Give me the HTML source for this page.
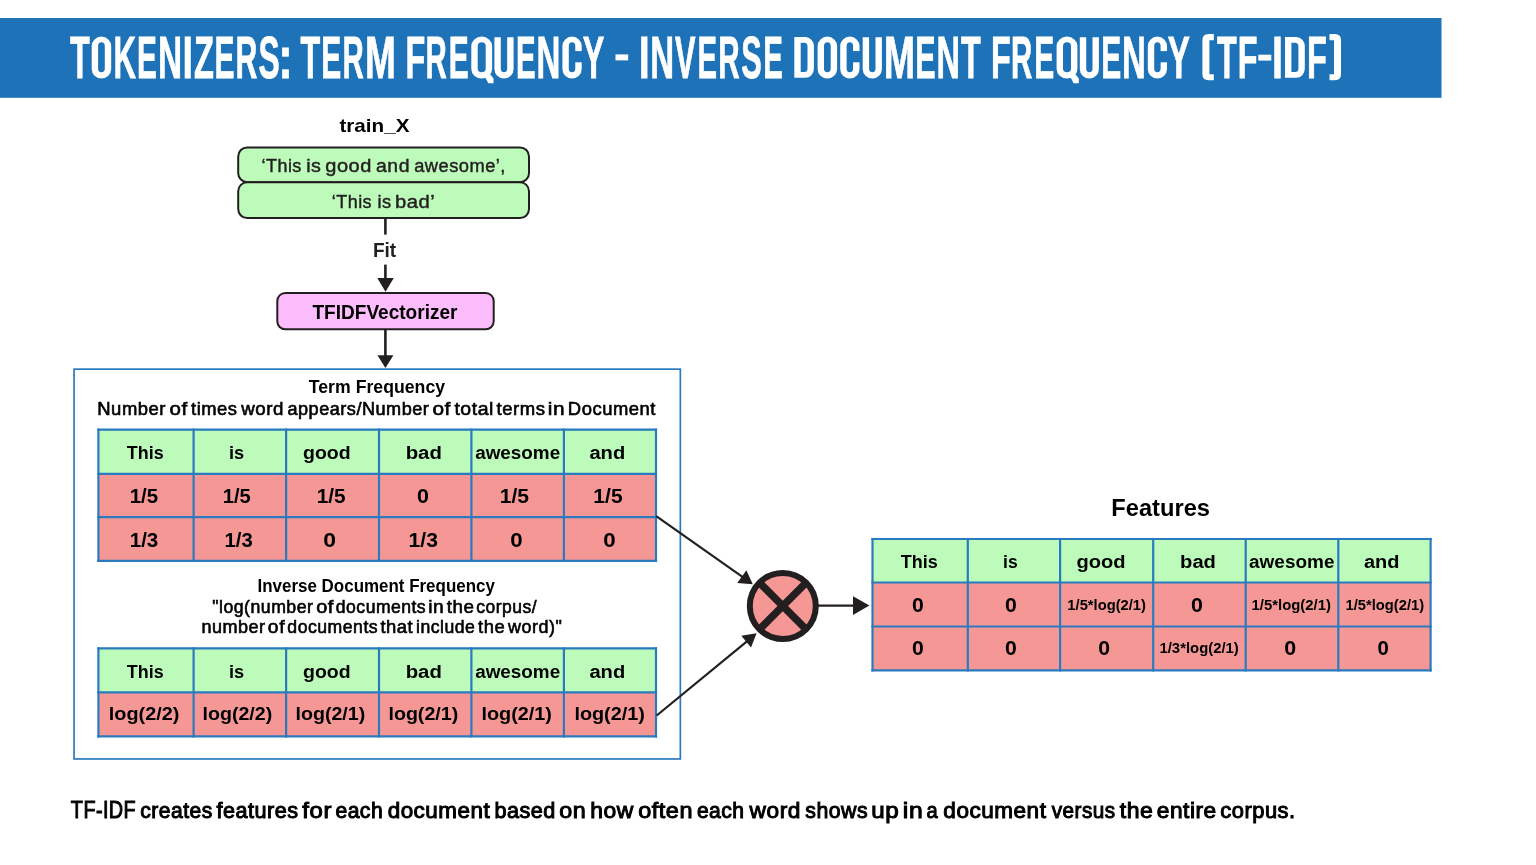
<!DOCTYPE html>
<html><head><meta charset="utf-8"><style>
html,body{margin:0;padding:0;background:#fff;overflow:hidden;width:1536px;height:865px;}
svg{display:block;will-change:transform;font-family:"Liberation Sans",sans-serif;}
</style></head><body>
<svg width="1536" height="865" viewBox="0 0 1536 865">
<rect x="0" y="18" width="1441.5" height="79.8" fill="#1d72b8"/>
<text x="69.94" y="77.50" font-size="58.4" font-weight="bold" fill="#ffffff" textLength="19.71" lengthAdjust="spacingAndGlyphs" stroke="#fff" stroke-width="0.8">T</text>
<path d="M101.45,36.60 H101.45 A9.75,9.50 0 0 1 111.20,46.10 V69.00 A9.75,9.50 0 0 1 101.45,78.50 H101.45 A9.75,9.50 0 0 1 91.70,69.00 V46.10 A9.75,9.50 0 0 1 101.45,36.60 Z M101.45,42.30 H101.45 A3.35,3.80 0 0 1 104.80,46.10 V68.40 A3.35,3.80 0 0 1 101.45,72.20 H101.45 A3.35,3.80 0 0 1 98.10,68.40 V46.10 A3.35,3.80 0 0 1 101.45,42.30 Z" fill="#fff" fill-rule="evenodd"/>
<text x="113.42" y="77.50" font-size="58.4" font-weight="bold" fill="#ffffff" textLength="22.47" lengthAdjust="spacingAndGlyphs" stroke="#fff" stroke-width="0.8">K</text>
<text x="137.01" y="77.50" font-size="58.4" font-weight="bold" fill="#ffffff" textLength="19.85" lengthAdjust="spacingAndGlyphs" stroke="#fff" stroke-width="0.8">E</text>
<text x="157.97" y="77.50" font-size="58.4" font-weight="bold" fill="#ffffff" textLength="24.08" lengthAdjust="spacingAndGlyphs" stroke="#fff" stroke-width="0.8">N</text>
<text x="182.39" y="77.50" font-size="58.4" font-weight="bold" fill="#ffffff" textLength="10.42" lengthAdjust="spacingAndGlyphs" stroke="#fff" stroke-width="0.8">I</text>
<text x="194.03" y="77.50" font-size="58.4" font-weight="bold" fill="#ffffff" textLength="19.91" lengthAdjust="spacingAndGlyphs" stroke="#fff" stroke-width="0.8">Z</text>
<text x="214.40" y="77.50" font-size="58.4" font-weight="bold" fill="#ffffff" textLength="19.97" lengthAdjust="spacingAndGlyphs" stroke="#fff" stroke-width="0.8">E</text>
<text x="235.48" y="77.50" font-size="58.4" font-weight="bold" fill="#ffffff" textLength="21.84" lengthAdjust="spacingAndGlyphs" stroke="#fff" stroke-width="0.8">R</text>
<text x="258.59" y="77.50" font-size="58.4" font-weight="bold" fill="#ffffff" textLength="21.15" lengthAdjust="spacingAndGlyphs" stroke="#fff" stroke-width="0.8">S</text>
<text x="278.13" y="77.50" font-size="58.4" font-weight="bold" fill="#ffffff" textLength="14.45" lengthAdjust="spacingAndGlyphs" stroke="#fff" stroke-width="0.8">:</text>
<text x="300.54" y="77.50" font-size="58.4" font-weight="bold" fill="#ffffff" textLength="19.71" lengthAdjust="spacingAndGlyphs" stroke="#fff" stroke-width="0.8">T</text>
<text x="321.30" y="77.50" font-size="58.4" font-weight="bold" fill="#ffffff" textLength="19.97" lengthAdjust="spacingAndGlyphs" stroke="#fff" stroke-width="0.8">E</text>
<text x="342.43" y="77.50" font-size="58.4" font-weight="bold" fill="#ffffff" textLength="21.27" lengthAdjust="spacingAndGlyphs" stroke="#fff" stroke-width="0.8">R</text>
<text x="365.12" y="77.50" font-size="58.4" font-weight="bold" fill="#ffffff" textLength="30.86" lengthAdjust="spacingAndGlyphs" stroke="#fff" stroke-width="0.8">M</text>
<text x="405.54" y="77.50" font-size="58.4" font-weight="bold" fill="#ffffff" textLength="19.75" lengthAdjust="spacingAndGlyphs" stroke="#fff" stroke-width="0.8">F</text>
<text x="425.53" y="77.50" font-size="58.4" font-weight="bold" fill="#ffffff" textLength="21.27" lengthAdjust="spacingAndGlyphs" stroke="#fff" stroke-width="0.8">R</text>
<text x="448.80" y="77.50" font-size="58.4" font-weight="bold" fill="#ffffff" textLength="19.97" lengthAdjust="spacingAndGlyphs" stroke="#fff" stroke-width="0.8">E</text>
<path d="M481.70,36.60 H481.70 A10.40,9.50 0 0 1 492.10,46.10 V69.00 A10.40,9.50 0 0 1 481.70,78.50 H481.70 A10.40,9.50 0 0 1 471.30,69.00 V46.10 A10.40,9.50 0 0 1 481.70,36.60 Z M481.70,42.30 H481.70 A4.00,3.80 0 0 1 485.70,46.10 V68.40 A4.00,3.80 0 0 1 481.70,72.20 H481.70 A4.00,3.80 0 0 1 477.70,68.40 V46.10 A4.00,3.80 0 0 1 481.70,42.30 Z" fill="#fff" fill-rule="evenodd"/>
<polygon points="484.80,76.5 490.30,74.5 493.50,78.5 493.50,83.3 488.30,83.3" fill="#fff"/>
<path d="M494.40,37.2 V69.00 A9.60,9.50 0 0 0 513.60,69.00 V37.2 H507.20 V68.40 A3.20,3.8 0 0 1 500.80,68.40 V37.2 Z" fill="#fff"/>
<text x="515.93" y="77.50" font-size="58.4" font-weight="bold" fill="#ffffff" textLength="19.62" lengthAdjust="spacingAndGlyphs" stroke="#fff" stroke-width="0.8">E</text>
<text x="536.49" y="77.50" font-size="58.4" font-weight="bold" fill="#ffffff" textLength="23.83" lengthAdjust="spacingAndGlyphs" stroke="#fff" stroke-width="0.8">N</text>
<path d="M572.05,36.60 H572.05 A9.65,9.50 0 0 1 581.70,46.10 V69.00 A9.65,9.50 0 0 1 572.05,78.50 H572.05 A9.65,9.50 0 0 1 562.40,69.00 V46.10 A9.65,9.50 0 0 1 572.05,36.60 Z M572.05,42.30 H572.05 A3.25,3.80 0 0 1 575.30,46.10 V68.40 A3.25,3.80 0 0 1 572.05,72.20 H572.05 A3.25,3.80 0 0 1 568.80,68.40 V46.10 A3.25,3.80 0 0 1 572.05,42.30 Z" fill="#fff" fill-rule="evenodd"/>
<rect x="573.80" y="51.1" width="8.60" height="11.2" fill="#1d72b8"/>
<text x="582.85" y="77.50" font-size="58.4" font-weight="bold" fill="#ffffff" textLength="21.57" lengthAdjust="spacingAndGlyphs" stroke="#fff" stroke-width="0.8">Y</text>
<text x="638.85" y="77.50" font-size="58.4" font-weight="bold" fill="#ffffff" textLength="10.99" lengthAdjust="spacingAndGlyphs" stroke="#fff" stroke-width="0.8">I</text>
<text x="650.29" y="77.50" font-size="58.4" font-weight="bold" fill="#ffffff" textLength="23.83" lengthAdjust="spacingAndGlyphs" stroke="#fff" stroke-width="0.8">N</text>
<text x="675.09" y="77.50" font-size="58.4" font-weight="bold" fill="#ffffff" textLength="20.52" lengthAdjust="spacingAndGlyphs" stroke="#fff" stroke-width="0.8">V</text>
<text x="697.44" y="77.50" font-size="58.4" font-weight="bold" fill="#ffffff" textLength="19.50" lengthAdjust="spacingAndGlyphs" stroke="#fff" stroke-width="0.8">E</text>
<text x="718.22" y="77.50" font-size="58.4" font-weight="bold" fill="#ffffff" textLength="21.39" lengthAdjust="spacingAndGlyphs" stroke="#fff" stroke-width="0.8">R</text>
<text x="741.22" y="77.50" font-size="58.4" font-weight="bold" fill="#ffffff" textLength="20.48" lengthAdjust="spacingAndGlyphs" stroke="#fff" stroke-width="0.8">S</text>
<text x="763.23" y="77.50" font-size="58.4" font-weight="bold" fill="#ffffff" textLength="19.62" lengthAdjust="spacingAndGlyphs" stroke="#fff" stroke-width="0.8">E</text>
<path d="M794.30,37.1 H805.40 A8.5,9 0 0 1 813.90,46.10 V68.80 A8.5,9 0 0 1 805.40,77.8 H794.30 Z M800.70,42.7 V71.9 H804.30 A3.2,3.5 0 0 0 807.50,68.40 V46.20 A3.2,3.5 0 0 0 804.30,42.7 Z" fill="#fff" fill-rule="evenodd"/>
<path d="M827.35,36.60 H827.35 A9.75,9.50 0 0 1 837.10,46.10 V69.00 A9.75,9.50 0 0 1 827.35,78.50 H827.35 A9.75,9.50 0 0 1 817.60,69.00 V46.10 A9.75,9.50 0 0 1 827.35,36.60 Z M827.35,42.30 H827.35 A3.35,3.80 0 0 1 830.70,46.10 V68.40 A3.35,3.80 0 0 1 827.35,72.20 H827.35 A3.35,3.80 0 0 1 824.00,68.40 V46.10 A3.35,3.80 0 0 1 827.35,42.30 Z" fill="#fff" fill-rule="evenodd"/>
<path d="M849.85,36.60 H849.85 A9.65,9.50 0 0 1 859.50,46.10 V69.00 A9.65,9.50 0 0 1 849.85,78.50 H849.85 A9.65,9.50 0 0 1 840.20,69.00 V46.10 A9.65,9.50 0 0 1 849.85,36.60 Z M849.85,42.30 H849.85 A3.25,3.80 0 0 1 853.10,46.10 V68.40 A3.25,3.80 0 0 1 849.85,72.20 H849.85 A3.25,3.80 0 0 1 846.60,68.40 V46.10 A3.25,3.80 0 0 1 849.85,42.30 Z" fill="#fff" fill-rule="evenodd"/>
<rect x="851.60" y="51.1" width="8.60" height="11.2" fill="#1d72b8"/>
<path d="M862.70,37.2 V69.00 A9.60,9.50 0 0 0 881.90,69.00 V37.2 H875.50 V68.40 A3.20,3.8 0 0 1 869.10,68.40 V37.2 Z" fill="#fff"/>
<text x="883.68" y="77.50" font-size="58.4" font-weight="bold" fill="#ffffff" textLength="31.33" lengthAdjust="spacingAndGlyphs" stroke="#fff" stroke-width="0.8">M</text>
<text x="915.16" y="77.50" font-size="58.4" font-weight="bold" fill="#ffffff" textLength="20.33" lengthAdjust="spacingAndGlyphs" stroke="#fff" stroke-width="0.8">E</text>
<text x="936.53" y="77.50" font-size="58.4" font-weight="bold" fill="#ffffff" textLength="23.46" lengthAdjust="spacingAndGlyphs" stroke="#fff" stroke-width="0.8">N</text>
<text x="961.04" y="77.50" font-size="58.4" font-weight="bold" fill="#ffffff" textLength="19.71" lengthAdjust="spacingAndGlyphs" stroke="#fff" stroke-width="0.8">T</text>
<text x="991.04" y="77.50" font-size="58.4" font-weight="bold" fill="#ffffff" textLength="19.75" lengthAdjust="spacingAndGlyphs" stroke="#fff" stroke-width="0.8">F</text>
<text x="1011.03" y="77.50" font-size="58.4" font-weight="bold" fill="#ffffff" textLength="21.27" lengthAdjust="spacingAndGlyphs" stroke="#fff" stroke-width="0.8">R</text>
<text x="1034.20" y="77.50" font-size="58.4" font-weight="bold" fill="#ffffff" textLength="19.97" lengthAdjust="spacingAndGlyphs" stroke="#fff" stroke-width="0.8">E</text>
<path d="M1067.00,36.60 H1067.00 A10.40,9.50 0 0 1 1077.40,46.10 V69.00 A10.40,9.50 0 0 1 1067.00,78.50 H1067.00 A10.40,9.50 0 0 1 1056.60,69.00 V46.10 A10.40,9.50 0 0 1 1067.00,36.60 Z M1067.00,42.30 H1067.00 A4.00,3.80 0 0 1 1071.00,46.10 V68.40 A4.00,3.80 0 0 1 1067.00,72.20 H1067.00 A4.00,3.80 0 0 1 1063.00,68.40 V46.10 A4.00,3.80 0 0 1 1067.00,42.30 Z" fill="#fff" fill-rule="evenodd"/>
<polygon points="1070.10,76.5 1075.60,74.5 1078.80,78.5 1078.80,83.3 1073.60,83.3" fill="#fff"/>
<path d="M1079.80,37.2 V69.00 A9.55,9.50 0 0 0 1098.90,69.00 V37.2 H1092.50 V68.40 A3.15,3.8 0 0 1 1086.20,68.40 V37.2 Z" fill="#fff"/>
<text x="1101.20" y="77.50" font-size="58.4" font-weight="bold" fill="#ffffff" textLength="19.97" lengthAdjust="spacingAndGlyphs" stroke="#fff" stroke-width="0.8">E</text>
<text x="1121.89" y="77.50" font-size="58.4" font-weight="bold" fill="#ffffff" textLength="23.83" lengthAdjust="spacingAndGlyphs" stroke="#fff" stroke-width="0.8">N</text>
<path d="M1157.40,36.60 H1157.40 A9.60,9.50 0 0 1 1167.00,46.10 V69.00 A9.60,9.50 0 0 1 1157.40,78.50 H1157.40 A9.60,9.50 0 0 1 1147.80,69.00 V46.10 A9.60,9.50 0 0 1 1157.40,36.60 Z M1157.40,42.30 H1157.40 A3.20,3.80 0 0 1 1160.60,46.10 V68.40 A3.20,3.80 0 0 1 1157.40,72.20 H1157.40 A3.20,3.80 0 0 1 1154.20,68.40 V46.10 A3.20,3.80 0 0 1 1157.40,42.30 Z" fill="#fff" fill-rule="evenodd"/>
<rect x="1159.10" y="51.1" width="8.60" height="11.2" fill="#1d72b8"/>
<text x="1167.63" y="77.50" font-size="58.4" font-weight="bold" fill="#ffffff" textLength="22.10" lengthAdjust="spacingAndGlyphs" stroke="#fff" stroke-width="0.8">Y</text>
<text x="1217.04" y="77.50" font-size="58.4" font-weight="bold" fill="#ffffff" textLength="19.71" lengthAdjust="spacingAndGlyphs" stroke="#fff" stroke-width="0.8">T</text>
<text x="1237.64" y="77.50" font-size="58.4" font-weight="bold" fill="#ffffff" textLength="19.75" lengthAdjust="spacingAndGlyphs" stroke="#fff" stroke-width="0.8">F</text>
<text x="1272.05" y="77.50" font-size="58.4" font-weight="bold" fill="#ffffff" textLength="10.99" lengthAdjust="spacingAndGlyphs" stroke="#fff" stroke-width="0.8">I</text>
<path d="M1285.00,37.1 H1296.30 A8.5,9 0 0 1 1304.80,46.10 V68.80 A8.5,9 0 0 1 1296.30,77.8 H1285.00 Z M1291.40,42.7 V71.9 H1295.20 A3.2,3.5 0 0 0 1298.40,68.40 V46.20 A3.2,3.5 0 0 0 1295.20,42.7 Z" fill="#fff" fill-rule="evenodd"/>
<text x="1306.92" y="77.50" font-size="58.4" font-weight="bold" fill="#ffffff" textLength="19.87" lengthAdjust="spacingAndGlyphs" stroke="#fff" stroke-width="0.8">F</text>
<rect x="615.5" y="54.4" width="12.7" height="6" fill="#fff"/>
<rect x="1258.3" y="54.7" width="13" height="5.9" fill="#fff"/>
<path d="M1213.8,34 L1208.6,34 Q1202.4,34 1202.4,40.2 L1202.4,74.1 Q1202.4,80.3 1208.6,80.3 L1213.8,80.3 L1213.8,74.3 L1209.4,74.3 L1209.4,40.2 L1213.8,40.2 Z" fill="#fff"/>
<path d="M1329.5,34 L1334.8,34 Q1341,34 1341,40.2 L1341,74.1 Q1341,80.3 1334.8,80.3 L1329.5,80.3 L1329.5,74.3 L1334,74.3 L1334,40.2 L1329.5,40.2 Z" fill="#fff"/>
<text x="339.45" y="132.20" font-size="18.43" font-weight="bold" fill="#000000" textLength="70.03" lengthAdjust="spacingAndGlyphs">train_X</text>
<rect x="238.2" y="147.4" width="290.8" height="34.8" rx="9" fill="#bdfbbb" stroke="#231f20" stroke-width="2"/>
<rect x="238.2" y="182.2" width="290.8" height="35.9" rx="9" fill="#bdfbbb" stroke="#231f20" stroke-width="2"/>
<text x="261.49" y="172.40" font-size="18.79" font-weight="normal" fill="#231f20" textLength="40.36" lengthAdjust="spacingAndGlyphs" stroke="#231f20" stroke-width="0.45" letter-spacing="0.5">‘This</text>
<text x="306.18" y="172.40" font-size="18.79" font-weight="normal" fill="#231f20" textLength="15.23" lengthAdjust="spacingAndGlyphs" stroke="#231f20" stroke-width="0.45" letter-spacing="0.5">is</text>
<text x="325.26" y="172.40" font-size="18.79" font-weight="normal" fill="#231f20" textLength="46.64" lengthAdjust="spacingAndGlyphs" stroke="#231f20" stroke-width="0.45" letter-spacing="0.5">good</text>
<text x="376.08" y="172.40" font-size="18.79" font-weight="normal" fill="#231f20" textLength="33.87" lengthAdjust="spacingAndGlyphs" stroke="#231f20" stroke-width="0.45" letter-spacing="0.5">and</text>
<text x="414.22" y="172.40" font-size="18.79" font-weight="normal" fill="#231f20" textLength="91.71" lengthAdjust="spacingAndGlyphs" stroke="#231f20" stroke-width="0.45" letter-spacing="0.5">awesome’,</text>
<text x="331.79" y="207.80" font-size="18.79" font-weight="normal" fill="#231f20" textLength="40.26" lengthAdjust="spacingAndGlyphs" stroke="#231f20" stroke-width="0.45" letter-spacing="0.5">‘This</text>
<text x="377.38" y="207.80" font-size="18.79" font-weight="normal" fill="#231f20" textLength="14.18" lengthAdjust="spacingAndGlyphs" stroke="#231f20" stroke-width="0.45" letter-spacing="0.5">is</text>
<text x="394.99" y="207.80" font-size="18.79" font-weight="normal" fill="#231f20" textLength="40.37" lengthAdjust="spacingAndGlyphs" stroke="#231f20" stroke-width="0.45" letter-spacing="0.5">bad’</text>
<line x1="385.4" y1="218" x2="385.4" y2="234.6" stroke="#231f20" stroke-width="2.6"/>
<text x="372.92" y="257.40" font-size="19.39" font-weight="bold" fill="#231f20" textLength="23.31" lengthAdjust="spacingAndGlyphs">Fit</text>
<line x1="385.4" y1="264.6" x2="385.4" y2="279" stroke="#231f20" stroke-width="2.6"/>
<polygon points="377.3,277.9 393.8,277.9 385.5,291.8" fill="#231f20"/>
<rect x="277.3" y="293" width="216.4" height="36.3" rx="8" fill="#fdbcfb" stroke="#231f20" stroke-width="2"/>
<text x="312.49" y="318.60" font-size="19.68" font-weight="bold" fill="#000000" textLength="145.00" lengthAdjust="spacingAndGlyphs">TFIDFVectorizer</text>
<line x1="385.4" y1="330" x2="385.4" y2="356" stroke="#231f20" stroke-width="2.6"/>
<polygon points="377.5,355.3 393.4,355.3 385.4,368" fill="#231f20"/>
<rect x="74.05" y="369.15" width="606.3" height="389.8" fill="none" stroke="#2a7abf" stroke-width="1.7"/>
<text x="308.80" y="392.50" font-size="18.24" font-weight="bold" fill="#000000" textLength="136.29" lengthAdjust="spacingAndGlyphs">Term Frequency</text>
<text x="97.28" y="415.30" font-size="17.58" font-weight="normal" fill="#000000" textLength="68.72" lengthAdjust="spacingAndGlyphs" stroke="#000" stroke-width="0.6" letter-spacing="0.5">Number</text>
<text x="169.63" y="415.30" font-size="17.58" font-weight="normal" fill="#000000" textLength="18.24" lengthAdjust="spacingAndGlyphs" stroke="#000" stroke-width="0.6" letter-spacing="0.5">of</text>
<text x="191.02" y="415.30" font-size="17.58" font-weight="normal" fill="#000000" textLength="46.44" lengthAdjust="spacingAndGlyphs" stroke="#000" stroke-width="0.6" letter-spacing="0.5">times</text>
<text x="241.33" y="415.30" font-size="17.58" font-weight="normal" fill="#000000" textLength="42.68" lengthAdjust="spacingAndGlyphs" stroke="#000" stroke-width="0.6" letter-spacing="0.5">word</text>
<text x="287.43" y="415.30" font-size="17.58" font-weight="normal" fill="#000000" textLength="141.97" lengthAdjust="spacingAndGlyphs" stroke="#000" stroke-width="0.6" letter-spacing="0.5">appears/Number</text>
<text x="432.42" y="415.30" font-size="17.58" font-weight="normal" fill="#000000" textLength="18.55" lengthAdjust="spacingAndGlyphs" stroke="#000" stroke-width="0.6" letter-spacing="0.5">of</text>
<text x="454.40" y="415.30" font-size="17.58" font-weight="normal" fill="#000000" textLength="39.61" lengthAdjust="spacingAndGlyphs" stroke="#000" stroke-width="0.6" letter-spacing="0.5">total</text>
<text x="496.62" y="415.30" font-size="17.58" font-weight="normal" fill="#000000" textLength="48.85" lengthAdjust="spacingAndGlyphs" stroke="#000" stroke-width="0.6" letter-spacing="0.5">terms</text>
<text x="547.69" y="415.30" font-size="17.58" font-weight="normal" fill="#000000" textLength="17.37" lengthAdjust="spacingAndGlyphs" stroke="#000" stroke-width="0.6" letter-spacing="0.5">in</text>
<text x="567.89" y="415.30" font-size="17.58" font-weight="normal" fill="#000000" textLength="88.05" lengthAdjust="spacingAndGlyphs" stroke="#000" stroke-width="0.6" letter-spacing="0.5">Document</text>
<rect x="98.4" y="429.7" width="557.6" height="44.10000000000002" fill="#bdfbbb"/>
<rect x="98.4" y="473.8" width="557.6" height="43.30000000000001" fill="#f59795"/>
<rect x="98.4" y="517.1" width="557.6" height="43.799999999999955" fill="#f59795"/>
<line x1="98.4" y1="428.59999999999997" x2="98.4" y2="562.0" stroke="#2a7abf" stroke-width="2.2"/>
<line x1="193.6" y1="428.59999999999997" x2="193.6" y2="562.0" stroke="#2a7abf" stroke-width="2.2"/>
<line x1="286.1" y1="428.59999999999997" x2="286.1" y2="562.0" stroke="#2a7abf" stroke-width="2.2"/>
<line x1="379" y1="428.59999999999997" x2="379" y2="562.0" stroke="#2a7abf" stroke-width="2.2"/>
<line x1="471.4" y1="428.59999999999997" x2="471.4" y2="562.0" stroke="#2a7abf" stroke-width="2.2"/>
<line x1="563.9" y1="428.59999999999997" x2="563.9" y2="562.0" stroke="#2a7abf" stroke-width="2.2"/>
<line x1="656" y1="428.59999999999997" x2="656" y2="562.0" stroke="#2a7abf" stroke-width="2.2"/>
<line x1="97.30000000000001" y1="429.7" x2="657.1" y2="429.7" stroke="#2a7abf" stroke-width="2.2"/>
<line x1="97.30000000000001" y1="473.8" x2="657.1" y2="473.8" stroke="#2a7abf" stroke-width="2.2"/>
<line x1="97.30000000000001" y1="517.1" x2="657.1" y2="517.1" stroke="#2a7abf" stroke-width="2.2"/>
<line x1="97.30000000000001" y1="560.9" x2="657.1" y2="560.9" stroke="#2a7abf" stroke-width="2.2"/>
<text x="126.80" y="459.20" font-size="18.82" font-weight="bold" fill="#000000" textLength="36.84" lengthAdjust="spacingAndGlyphs">This</text>
<text x="229.03" y="459.20" font-size="18.82" font-weight="bold" fill="#000000" textLength="15.22" lengthAdjust="spacingAndGlyphs">is</text>
<text x="303.00" y="459.20" font-size="18.82" font-weight="bold" fill="#000000" textLength="47.69" lengthAdjust="spacingAndGlyphs">good</text>
<text x="405.66" y="459.20" font-size="18.82" font-weight="bold" fill="#000000" textLength="36.18" lengthAdjust="spacingAndGlyphs">bad</text>
<text x="475.15" y="459.20" font-size="18.82" font-weight="bold" fill="#000000" textLength="85.00" lengthAdjust="spacingAndGlyphs">awesome</text>
<text x="589.41" y="459.20" font-size="18.82" font-weight="bold" fill="#000000" textLength="35.82" lengthAdjust="spacingAndGlyphs">and</text>
<text x="129.71" y="502.90" font-size="19.9" font-weight="bold" fill="#000000" textLength="28.46" lengthAdjust="spacingAndGlyphs">1/5</text>
<text x="222.73" y="502.90" font-size="19.9" font-weight="bold" fill="#000000" textLength="28.03" lengthAdjust="spacingAndGlyphs">1/5</text>
<text x="316.69" y="502.90" font-size="19.9" font-weight="bold" fill="#000000" textLength="28.89" lengthAdjust="spacingAndGlyphs">1/5</text>
<text x="417.05" y="502.90" font-size="19.9" font-weight="bold" fill="#000000" textLength="11.93" lengthAdjust="spacingAndGlyphs">0</text>
<text x="499.67" y="502.90" font-size="19.9" font-weight="bold" fill="#000000" textLength="29.32" lengthAdjust="spacingAndGlyphs">1/5</text>
<text x="593.38" y="502.90" font-size="19.9" font-weight="bold" fill="#000000" textLength="29.21" lengthAdjust="spacingAndGlyphs">1/5</text>
<text x="129.70" y="546.60" font-size="19.9" font-weight="bold" fill="#000000" textLength="28.64" lengthAdjust="spacingAndGlyphs">1/3</text>
<text x="224.52" y="546.60" font-size="19.9" font-weight="bold" fill="#000000" textLength="28.21" lengthAdjust="spacingAndGlyphs">1/3</text>
<text x="323.29" y="546.60" font-size="19.9" font-weight="bold" fill="#000000" textLength="12.75" lengthAdjust="spacingAndGlyphs">0</text>
<text x="408.57" y="546.60" font-size="19.9" font-weight="bold" fill="#000000" textLength="29.40" lengthAdjust="spacingAndGlyphs">1/3</text>
<text x="510.32" y="546.60" font-size="19.9" font-weight="bold" fill="#000000" textLength="12.40" lengthAdjust="spacingAndGlyphs">0</text>
<text x="603.32" y="546.60" font-size="19.9" font-weight="bold" fill="#000000" textLength="12.40" lengthAdjust="spacingAndGlyphs">0</text>
<text x="257.57" y="591.70" font-size="18.43" font-weight="bold" fill="#000000" textLength="237.32" lengthAdjust="spacingAndGlyphs">Inverse Document Frequency</text>
<text x="212.25" y="613.40" font-size="17.67" font-weight="normal" fill="#000000" textLength="101.14" lengthAdjust="spacingAndGlyphs" stroke="#000" stroke-width="0.6" letter-spacing="0.5">"log(number</text>
<text x="316.16" y="613.40" font-size="17.67" font-weight="normal" fill="#000000" textLength="17.71" lengthAdjust="spacingAndGlyphs" stroke="#000" stroke-width="0.6" letter-spacing="0.5">of</text>
<text x="335.86" y="613.40" font-size="17.67" font-weight="normal" fill="#000000" textLength="90.27" lengthAdjust="spacingAndGlyphs" stroke="#000" stroke-width="0.6" letter-spacing="0.5">documents</text>
<text x="428.31" y="613.40" font-size="17.67" font-weight="normal" fill="#000000" textLength="16.05" lengthAdjust="spacingAndGlyphs" stroke="#000" stroke-width="0.6" letter-spacing="0.5">in</text>
<text x="446.81" y="613.40" font-size="17.67" font-weight="normal" fill="#000000" textLength="27.72" lengthAdjust="spacingAndGlyphs" stroke="#000" stroke-width="0.6" letter-spacing="0.5">the</text>
<text x="476.26" y="613.40" font-size="17.67" font-weight="normal" fill="#000000" textLength="60.74" lengthAdjust="spacingAndGlyphs" stroke="#000" stroke-width="0.6" letter-spacing="0.5">corpus/</text>
<text x="201.40" y="632.60" font-size="17.67" font-weight="normal" fill="#000000" textLength="64.20" lengthAdjust="spacingAndGlyphs" stroke="#000" stroke-width="0.6" letter-spacing="0.5">number</text>
<text x="267.88" y="632.60" font-size="17.67" font-weight="normal" fill="#000000" textLength="17.19" lengthAdjust="spacingAndGlyphs" stroke="#000" stroke-width="0.6" letter-spacing="0.5">of</text>
<text x="287.36" y="632.60" font-size="17.67" font-weight="normal" fill="#000000" textLength="90.78" lengthAdjust="spacingAndGlyphs" stroke="#000" stroke-width="0.6" letter-spacing="0.5">documents</text>
<text x="380.42" y="632.60" font-size="17.67" font-weight="normal" fill="#000000" textLength="32.81" lengthAdjust="spacingAndGlyphs" stroke="#000" stroke-width="0.6" letter-spacing="0.5">that</text>
<text x="416.02" y="632.60" font-size="17.67" font-weight="normal" fill="#000000" textLength="59.26" lengthAdjust="spacingAndGlyphs" stroke="#000" stroke-width="0.6" letter-spacing="0.5">include</text>
<text x="478.02" y="632.60" font-size="17.67" font-weight="normal" fill="#000000" textLength="27.10" lengthAdjust="spacingAndGlyphs" stroke="#000" stroke-width="0.6" letter-spacing="0.5">the</text>
<text x="508.13" y="632.60" font-size="17.67" font-weight="normal" fill="#000000" textLength="54.13" lengthAdjust="spacingAndGlyphs" stroke="#000" stroke-width="0.6" letter-spacing="0.5">word)"</text>
<rect x="98.4" y="648.4" width="557.6" height="44.05000000000007" fill="#bdfbbb"/>
<rect x="98.4" y="692.45" width="557.6" height="44.0" fill="#f59795"/>
<line x1="98.4" y1="647.3" x2="98.4" y2="737.5500000000001" stroke="#2a7abf" stroke-width="2.2"/>
<line x1="193.6" y1="647.3" x2="193.6" y2="737.5500000000001" stroke="#2a7abf" stroke-width="2.2"/>
<line x1="286.1" y1="647.3" x2="286.1" y2="737.5500000000001" stroke="#2a7abf" stroke-width="2.2"/>
<line x1="379" y1="647.3" x2="379" y2="737.5500000000001" stroke="#2a7abf" stroke-width="2.2"/>
<line x1="471.4" y1="647.3" x2="471.4" y2="737.5500000000001" stroke="#2a7abf" stroke-width="2.2"/>
<line x1="563.9" y1="647.3" x2="563.9" y2="737.5500000000001" stroke="#2a7abf" stroke-width="2.2"/>
<line x1="656" y1="647.3" x2="656" y2="737.5500000000001" stroke="#2a7abf" stroke-width="2.2"/>
<line x1="97.30000000000001" y1="648.4" x2="657.1" y2="648.4" stroke="#2a7abf" stroke-width="2.2"/>
<line x1="97.30000000000001" y1="692.45" x2="657.1" y2="692.45" stroke="#2a7abf" stroke-width="2.2"/>
<line x1="97.30000000000001" y1="736.45" x2="657.1" y2="736.45" stroke="#2a7abf" stroke-width="2.2"/>
<text x="126.80" y="678.40" font-size="18.82" font-weight="bold" fill="#000000" textLength="36.84" lengthAdjust="spacingAndGlyphs">This</text>
<text x="229.03" y="678.40" font-size="18.82" font-weight="bold" fill="#000000" textLength="15.22" lengthAdjust="spacingAndGlyphs">is</text>
<text x="303.00" y="678.40" font-size="18.82" font-weight="bold" fill="#000000" textLength="47.69" lengthAdjust="spacingAndGlyphs">good</text>
<text x="405.66" y="678.40" font-size="18.82" font-weight="bold" fill="#000000" textLength="36.18" lengthAdjust="spacingAndGlyphs">bad</text>
<text x="475.15" y="678.40" font-size="18.82" font-weight="bold" fill="#000000" textLength="85.00" lengthAdjust="spacingAndGlyphs">awesome</text>
<text x="589.41" y="678.40" font-size="18.82" font-weight="bold" fill="#000000" textLength="35.82" lengthAdjust="spacingAndGlyphs">and</text>
<text x="108.81" y="720.40" font-size="19.1" font-weight="bold" fill="#000000" textLength="70.57" lengthAdjust="spacingAndGlyphs">log(2/2)</text>
<text x="202.53" y="720.40" font-size="19.1" font-weight="bold" fill="#000000" textLength="69.75" lengthAdjust="spacingAndGlyphs">log(2/2)</text>
<text x="295.53" y="720.40" font-size="19.1" font-weight="bold" fill="#000000" textLength="69.75" lengthAdjust="spacingAndGlyphs">log(2/1)</text>
<text x="388.43" y="720.40" font-size="19.1" font-weight="bold" fill="#000000" textLength="69.85" lengthAdjust="spacingAndGlyphs">log(2/1)</text>
<text x="481.41" y="720.40" font-size="19.1" font-weight="bold" fill="#000000" textLength="70.57" lengthAdjust="spacingAndGlyphs">log(2/1)</text>
<text x="574.42" y="720.40" font-size="19.1" font-weight="bold" fill="#000000" textLength="70.47" lengthAdjust="spacingAndGlyphs">log(2/1)</text>
<line x1="656.2" y1="516.2" x2="746" y2="579.4" stroke="#231f20" stroke-width="2.2"/>
<polygon points="752.8,584.2 737.2,583 746.4,570.3" fill="#231f20"/>
<line x1="656.7" y1="715.5" x2="750" y2="638.8" stroke="#231f20" stroke-width="2.2"/>
<polygon points="756.6,633.3 741.3,635.7 751,647.5" fill="#231f20"/>
<circle cx="782.8" cy="606" r="33" fill="#f59795" stroke="#231f20" stroke-width="6"/>
<line x1="759.47" y1="582.67" x2="806.13" y2="629.33" stroke="#231f20" stroke-width="7.5"/>
<line x1="759.47" y1="629.33" x2="806.13" y2="582.67" stroke="#231f20" stroke-width="7.5"/>
<line x1="818" y1="605.6" x2="855" y2="605.6" stroke="#231f20" stroke-width="2.2"/>
<polygon points="853,596.2 853,615.1 869.4,605.6" fill="#231f20"/>
<text x="1111.32" y="515.90" font-size="23.71" font-weight="bold" fill="#000000" textLength="98.65" lengthAdjust="spacingAndGlyphs">Features</text>
<rect x="872.5" y="539" width="558.0999999999999" height="43.5" fill="#bdfbbb"/>
<rect x="872.5" y="582.5" width="558.0999999999999" height="44.0" fill="#f59795"/>
<rect x="872.5" y="626.5" width="558.0999999999999" height="43.89999999999998" fill="#f59795"/>
<line x1="872.5" y1="537.9" x2="872.5" y2="671.5" stroke="#2a7abf" stroke-width="2.2"/>
<line x1="967.8" y1="537.9" x2="967.8" y2="671.5" stroke="#2a7abf" stroke-width="2.2"/>
<line x1="1060.1" y1="537.9" x2="1060.1" y2="671.5" stroke="#2a7abf" stroke-width="2.2"/>
<line x1="1153.2" y1="537.9" x2="1153.2" y2="671.5" stroke="#2a7abf" stroke-width="2.2"/>
<line x1="1245.7" y1="537.9" x2="1245.7" y2="671.5" stroke="#2a7abf" stroke-width="2.2"/>
<line x1="1338.3" y1="537.9" x2="1338.3" y2="671.5" stroke="#2a7abf" stroke-width="2.2"/>
<line x1="1430.6" y1="537.9" x2="1430.6" y2="671.5" stroke="#2a7abf" stroke-width="2.2"/>
<line x1="871.4" y1="539" x2="1431.6999999999998" y2="539" stroke="#2a7abf" stroke-width="2.2"/>
<line x1="871.4" y1="582.5" x2="1431.6999999999998" y2="582.5" stroke="#2a7abf" stroke-width="2.2"/>
<line x1="871.4" y1="626.5" x2="1431.6999999999998" y2="626.5" stroke="#2a7abf" stroke-width="2.2"/>
<line x1="871.4" y1="670.4" x2="1431.6999999999998" y2="670.4" stroke="#2a7abf" stroke-width="2.2"/>
<text x="900.80" y="567.90" font-size="18.82" font-weight="bold" fill="#000000" textLength="37.04" lengthAdjust="spacingAndGlyphs">This</text>
<text x="1003.07" y="567.90" font-size="18.82" font-weight="bold" fill="#000000" textLength="14.65" lengthAdjust="spacingAndGlyphs">is</text>
<text x="1076.47" y="567.90" font-size="18.82" font-weight="bold" fill="#000000" textLength="49.15" lengthAdjust="spacingAndGlyphs">good</text>
<text x="1180.07" y="567.90" font-size="18.82" font-weight="bold" fill="#000000" textLength="35.86" lengthAdjust="spacingAndGlyphs">bad</text>
<text x="1249.04" y="567.90" font-size="18.82" font-weight="bold" fill="#000000" textLength="85.40" lengthAdjust="spacingAndGlyphs">awesome</text>
<text x="1363.91" y="567.90" font-size="18.82" font-weight="bold" fill="#000000" textLength="35.50" lengthAdjust="spacingAndGlyphs">and</text>
<text x="912.06" y="611.50" font-size="19.5" font-weight="bold" fill="#000000" textLength="11.81" lengthAdjust="spacingAndGlyphs">0</text>
<text x="1004.96" y="611.50" font-size="19.5" font-weight="bold" fill="#000000" textLength="11.81" lengthAdjust="spacingAndGlyphs">0</text>
<text x="1067.37" y="609.70" font-size="13.92" font-weight="bold" fill="#000000" textLength="78.56" lengthAdjust="spacingAndGlyphs">1/5*log(2/1)</text>
<text x="1190.95" y="611.50" font-size="19.5" font-weight="bold" fill="#000000" textLength="11.93" lengthAdjust="spacingAndGlyphs">0</text>
<text x="1251.56" y="609.70" font-size="13.92" font-weight="bold" fill="#000000" textLength="79.38" lengthAdjust="spacingAndGlyphs">1/5*log(2/1)</text>
<text x="1345.57" y="609.70" font-size="13.92" font-weight="bold" fill="#000000" textLength="78.56" lengthAdjust="spacingAndGlyphs">1/5*log(2/1)</text>
<text x="912.06" y="654.70" font-size="19.5" font-weight="bold" fill="#000000" textLength="11.81" lengthAdjust="spacingAndGlyphs">0</text>
<text x="1004.96" y="654.70" font-size="19.5" font-weight="bold" fill="#000000" textLength="11.81" lengthAdjust="spacingAndGlyphs">0</text>
<text x="1098.16" y="654.70" font-size="19.5" font-weight="bold" fill="#000000" textLength="11.81" lengthAdjust="spacingAndGlyphs">0</text>
<text x="1159.46" y="653.20" font-size="13.92" font-weight="bold" fill="#000000" textLength="79.38" lengthAdjust="spacingAndGlyphs">1/3*log(2/1)</text>
<text x="1284.15" y="654.70" font-size="19.5" font-weight="bold" fill="#000000" textLength="11.93" lengthAdjust="spacingAndGlyphs">0</text>
<text x="1377.49" y="654.70" font-size="19.5" font-weight="bold" fill="#000000" textLength="11.34" lengthAdjust="spacingAndGlyphs">0</text>
<text x="70.86" y="817.90" font-size="23.5" font-weight="normal" fill="#000000" textLength="65.23" lengthAdjust="spacingAndGlyphs" stroke="#000" stroke-width="1.0" letter-spacing="0.5">TF-IDF</text>
<text x="140.31" y="817.90" font-size="21.86" font-weight="normal" fill="#000000" textLength="72.45" lengthAdjust="spacingAndGlyphs" stroke="#000" stroke-width="1.0" letter-spacing="0.5">creates</text>
<text x="216.39" y="817.90" font-size="21.86" font-weight="normal" fill="#000000" textLength="82.19" lengthAdjust="spacingAndGlyphs" stroke="#000" stroke-width="1.0" letter-spacing="0.5">features</text>
<text x="302.36" y="817.90" font-size="21.86" font-weight="normal" fill="#000000" textLength="29.54" lengthAdjust="spacingAndGlyphs" stroke="#000" stroke-width="1.0" letter-spacing="0.5">for</text>
<text x="335.40" y="817.90" font-size="21.86" font-weight="normal" fill="#000000" textLength="47.77" lengthAdjust="spacingAndGlyphs" stroke="#000" stroke-width="1.0" letter-spacing="0.5">each</text>
<text x="387.66" y="817.90" font-size="21.86" font-weight="normal" fill="#000000" textLength="102.51" lengthAdjust="spacingAndGlyphs" stroke="#000" stroke-width="1.0" letter-spacing="0.5">document</text>
<text x="494.51" y="817.90" font-size="21.86" font-weight="normal" fill="#000000" textLength="61.39" lengthAdjust="spacingAndGlyphs" stroke="#000" stroke-width="1.0" letter-spacing="0.5">based</text>
<text x="559.32" y="817.90" font-size="21.86" font-weight="normal" fill="#000000" textLength="27.00" lengthAdjust="spacingAndGlyphs" stroke="#000" stroke-width="1.0" letter-spacing="0.5">on</text>
<text x="590.21" y="817.90" font-size="21.86" font-weight="normal" fill="#000000" textLength="43.53" lengthAdjust="spacingAndGlyphs" stroke="#000" stroke-width="1.0" letter-spacing="0.5">how</text>
<text x="638.21" y="817.90" font-size="21.86" font-weight="normal" fill="#000000" textLength="54.82" lengthAdjust="spacingAndGlyphs" stroke="#000" stroke-width="1.0" letter-spacing="0.5">often</text>
<text x="696.91" y="817.90" font-size="21.86" font-weight="normal" fill="#000000" textLength="47.66" lengthAdjust="spacingAndGlyphs" stroke="#000" stroke-width="1.0" letter-spacing="0.5">each</text>
<text x="749.63" y="817.90" font-size="21.86" font-weight="normal" fill="#000000" textLength="51.23" lengthAdjust="spacingAndGlyphs" stroke="#000" stroke-width="1.0" letter-spacing="0.5">word</text>
<text x="805.31" y="817.90" font-size="21.86" font-weight="normal" fill="#000000" textLength="62.86" lengthAdjust="spacingAndGlyphs" stroke="#000" stroke-width="1.0" letter-spacing="0.5">shows</text>
<text x="871.22" y="817.90" font-size="21.86" font-weight="normal" fill="#000000" textLength="28.00" lengthAdjust="spacingAndGlyphs" stroke="#000" stroke-width="1.0" letter-spacing="0.5">up</text>
<text x="902.83" y="817.90" font-size="21.86" font-weight="normal" fill="#000000" textLength="20.38" lengthAdjust="spacingAndGlyphs" stroke="#000" stroke-width="1.0" letter-spacing="0.5">in</text>
<text x="926.55" y="817.90" font-size="21.86" font-weight="normal" fill="#000000" textLength="11.65" lengthAdjust="spacingAndGlyphs" stroke="#000" stroke-width="1.0" letter-spacing="0.5">a</text>
<text x="943.35" y="817.90" font-size="21.86" font-weight="normal" fill="#000000" textLength="103.11" lengthAdjust="spacingAndGlyphs" stroke="#000" stroke-width="1.0" letter-spacing="0.5">document</text>
<text x="1051.73" y="817.90" font-size="21.86" font-weight="normal" fill="#000000" textLength="63.82" lengthAdjust="spacingAndGlyphs" stroke="#000" stroke-width="1.0" letter-spacing="0.5">versus</text>
<text x="1119.85" y="817.90" font-size="21.86" font-weight="normal" fill="#000000" textLength="33.57" lengthAdjust="spacingAndGlyphs" stroke="#000" stroke-width="1.0" letter-spacing="0.5">the</text>
<text x="1156.83" y="817.90" font-size="21.86" font-weight="normal" fill="#000000" textLength="59.88" lengthAdjust="spacingAndGlyphs" stroke="#000" stroke-width="1.0" letter-spacing="0.5">entire</text>
<text x="1220.37" y="817.90" font-size="21.86" font-weight="normal" fill="#000000" textLength="75.23" lengthAdjust="spacingAndGlyphs" stroke="#000" stroke-width="1.0" letter-spacing="0.5">corpus.</text>
</svg>
</body></html>
